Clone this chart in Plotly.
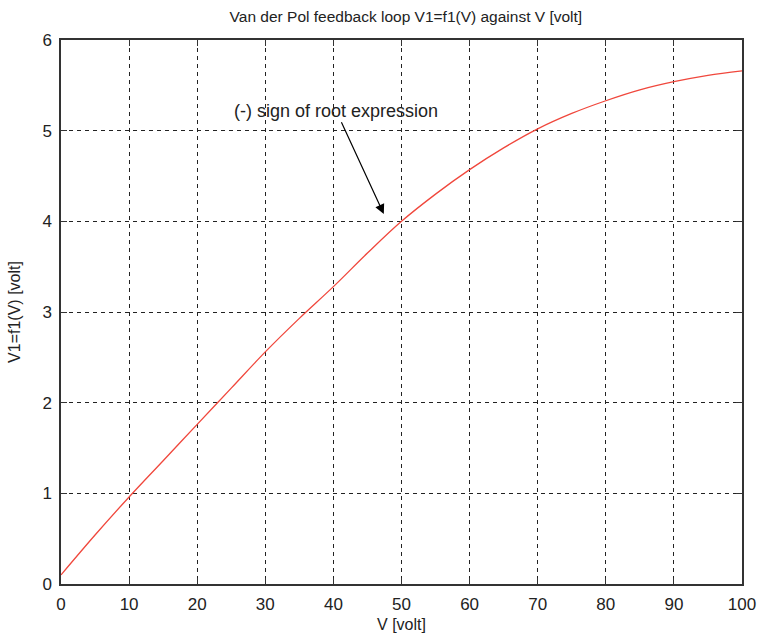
import plotly.graph_objects as go

v_volt = [0, 5, 10, 15, 20, 25, 30, 35, 40, 45, 50, 55, 60, 65, 70, 75, 80, 85, 90, 95, 100]
v1_volt = [0.10, 0.54, 0.96, 1.36, 1.76, 2.16, 2.56, 2.93, 3.28, 3.65, 4.00, 4.30, 4.57, 4.81, 5.02, 5.19, 5.33, 5.45, 5.54, 5.61, 5.66]

x_ticks = [0, 10, 20, 30, 40, 50, 60, 70, 80, 90, 100]
y_ticks = [0, 1, 2, 3, 4, 5, 6]

FONT = "Liberation Sans, Arial, sans-serif"

fig = go.Figure()
fig.add_trace(go.Scatter(x=v_volt, y=v1_volt, mode="lines",
                         line=dict(color="#f0473c", width=1.3, shape="spline"),
                         showlegend=False, hoverinfo="skip"))

fig.add_annotation(x=47.4, y=4.08, ax=40.4, ay=5.22, xref="x", yref="y", axref="x", ayref="y",
                   text="(-) sign of root expression", showarrow=True,
                   arrowhead=2, arrowsize=1.6, arrowwidth=1.2, arrowcolor="black",
                   font=dict(family=FONT, size=18, color="#222"))

axis_common = dict(showline=True, linecolor="#333", linewidth=1.5, mirror="ticks",
                   ticks="inside", ticklen=6, tickcolor="#333",
                   showgrid=True, gridcolor="#222", griddash="4px,4px", gridwidth=1,
                   zeroline=False, tickfont=dict(family=FONT, size=17, color="#222"))

fig.update_xaxes(range=[0, 100], tickvals=x_ticks, ticklabelstandoff=4, **axis_common,
                 title=dict(text="V [volt]", font=dict(family=FONT, size=16, color="#222"), standoff=6))
fig.update_yaxes(range=[0, 6], tickvals=y_ticks, ticklabelstandoff=4, **axis_common,
                 title=dict(text="V1=f1(V) [volt]", font=dict(family=FONT, size=16, color="#222"), standoff=18))

fig.update_layout(
    width=768, height=644,
    margin=dict(l=61, r=17, t=40, b=60),
    plot_bgcolor="white", paper_bgcolor="white",
    title=dict(text="Van der Pol feedback loop V1=f1(V) against V [volt]",
               x=0.5285, xanchor="center", y=0.974, yanchor="middle",
               font=dict(family=FONT, size=15.5, color="#222")),
)

fig.write_html("out.html")
